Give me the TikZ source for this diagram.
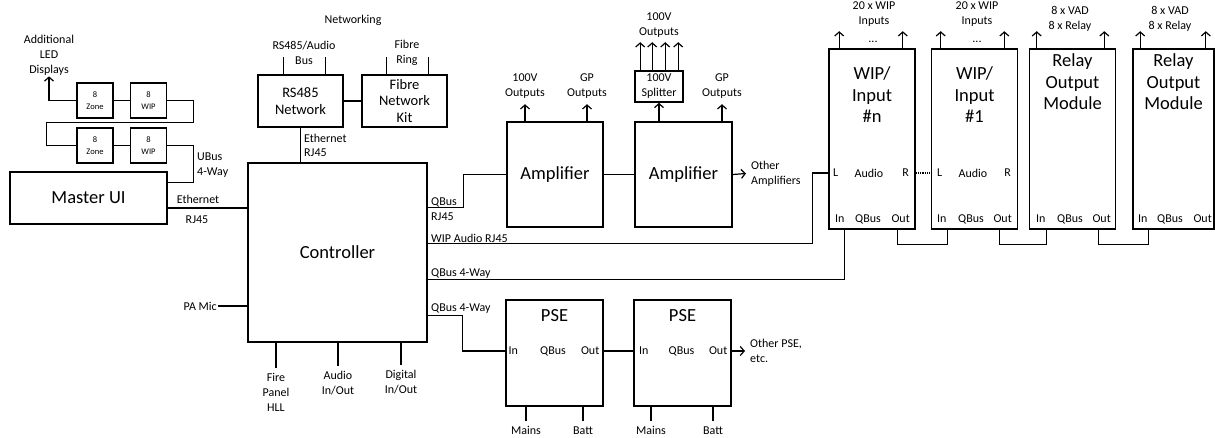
\documentclass[tikz,border=0pt]{standalone}
\usepackage{fontspec}
\setmainfont{Carlito}
\usepackage{tikz}
\usetikzlibrary{arrows.meta, positioning, calc}

\tikzset{
  unit/.style={draw, line width=1.6pt, inner sep=0pt, align=center, font=\fontsize{18.5}{21.5}\selectfont},
  netunit/.style={unit, font=\fontsize{14.5}{16.5}\selectfont},
  ledunit/.style={unit, minimum width=36pt, minimum height=35pt, font=\fontsize{8.5}{12}\selectfont},
  modbox/.style={unit, minimum width=86pt, minimum height=180pt},
  psebox/.style={unit, minimum width=97pt, minimum height=106pt},
  title/.style={font=\fontsize{18.5}{21.5}\selectfont, align=center, inner sep=0pt},
  lbl/.style={font=\fontsize{12}{15}\selectfont, align=center, inner sep=1pt},
  port/.style={font=\fontsize{12}{15}\selectfont, inner sep=0pt},
  wire/.style={line width=1.2pt},
}

\begin{document}
\begin{tikzpicture}[x=1pt, y=-1pt, >={Straight Barb[length=4pt, width=9pt]}]
    \useasboundingbox (0,0) rectangle (1215,437);

    % master UI and controller
    \node[unit, minimum width=157pt, minimum height=52pt] (master) at (88.5,198) {Master UI};
    \node[unit, minimum width=179pt, minimum height=179pt] (ctrl) at (337.5,252.5) {Controller};

    % LED displays
    \node[ledunit] (ledzoneA) at (95,100.5) {8\\Zone};
    \node[ledunit] (ledwipA) at (148.5,100.5) {8\\WIP};
    \node[ledunit] (ledzoneB) at (95,145.5) {8\\Zone};
    \node[ledunit] (ledwipB) at (148.5,145.5) {8\\WIP};
    \node[lbl] (addled) at (49,55) {Additional\\LED\\Displays};
    \node[lbl, anchor=west, align=left] (ubus) at (196,165.5) {UBus\\4-Way};

    \draw[wire, ->] (ledzoneA.west) -| (addled.south);
    \draw[wire] (ledzoneA) -- (ledwipA);
    \draw[wire] (ledwipA.east) -- ++(26,0) |- ($(ledzoneB.west)+(-30,-23)$) |- (ledzoneB.west);
    \draw[wire] (ledzoneB) -- (ledwipB);
    \draw[wire] (ledwipB.east) -- ++(26,0) |- ($(master.north east)+(0,11)$);

    \coordinate (ethA) at ($(master.east)+(0,10)$);
    \draw[wire] (ethA) -- (ethA -| ctrl.west);
    \node[lbl] (ethAlbl) at (198,199) {Ethernet};
    \node[lbl] (rjAlbl) at (197,220) {RJ45};

    % networking
    \node[netunit, minimum width=85pt, minimum height=52pt] (rs485) at (300.5,101) {RS485\\Network};
    \node[netunit, minimum width=85pt, minimum height=52pt] (fibre) at (404.5,101) {Fibre\\Network\\Kit};
    \node[lbl] (netlbl) at (353,20) {Networking};
    \node[lbl] (buslbl) at (304,53) {RS485/Audio\\Bus};
    \node[lbl] (ringlbl) at (407,53) {Fibre\\Ring};
    \draw[wire] ($(rs485.north west)+(26,0)$) -- ++(0,-17);
    \draw[wire] ($(rs485.north east)+(-18,0)$) -- ++(0,-17);
    \draw[wire] ($(fibre.north west)+(25,0)$) -- ++(0,-17);
    \draw[wire] ($(fibre.north east)+(-19,0)$) -- ++(0,-17);
    \draw[wire] (rs485) -- (fibre);
    \draw[wire] (rs485.south) -- (rs485.south |- ctrl.north);
    \node[lbl, anchor=west] (ethBlbl) at (303,138) {Ethernet};
    \node[lbl, anchor=west] (rjBlbl) at (303,153) {RJ45};

    % amplifiers
    \node[unit, minimum width=96pt, minimum height=105pt] (ampA) at (555,174.5) {Amplifier};
    \node[unit, minimum width=97pt, minimum height=105pt] (ampB) at (683.5,174.5) {Amplifier};
    \node[unit, font=\fontsize{12}{15}\selectfont, minimum width=48pt, minimum height=31pt] (split) at (659,86.5) {100V\\Splitter};
    \node[lbl] (ampAout) at (525,86.5) {100V\\Outputs};
    \node[lbl] (ampAgp) at (587,86.5) {GP\\Outputs};
    \node[lbl] (ampBgp) at (722,86.5) {GP\\Outputs};
    \node[lbl] (splitout) at (659,25) {100V\\Outputs};
    \node[lbl, anchor=west, align=left, inner xsep=5pt] (otheramp) at (746,173.5) {Other\\Amplifiers};

    \draw[wire, ->] (ampA.north -| ampAout) -- ++(0,-17);
    \draw[wire, ->] (ampA.north -| ampAgp) -- ++(0,-17);
    \draw[wire, ->] (ampB.north -| split) -- (split.south);
    \draw[wire, ->] (ampB.north -| ampBgp) -- ++(0,-17);
    \draw[wire, ->] ($(split.north west)+(6,0)$) -- ++(0,-28);
    \draw[wire, ->] ($(split.north west)+(18,0)$) -- ++(0,-28);
    \draw[wire, ->] ($(split.north west)+(31,0)$) -- ++(0,-28);
    \draw[wire, ->] ($(split.north west)+(44,0)$) -- ++(0,-28);
    \draw[wire] (ampA) -- (ampB);
    \draw[wire, ->] (ampB.east) -- (otheramp.west);

    % WIP and relay modules
    \node[modbox] (wipn) at (872,139) {};
    \node[modbox] (wip1) at (974.5,139) {};
    \node[modbox] (relA) at (1072.5,139) {};
    \node[modbox, minimum width=81pt] (relB) at (1173.5,139) {};
    \node[title] (wipnT) at (872,95) {WIP/\\Input\\\#n};
    \node[title] (wip1T) at (974.5,95) {WIP/\\Input\\\#1};
    \node[title] (relAT) at (1072.5,82) {Relay\\Output\\Module};
    \node[title] (relBT) at (1173.5,82) {Relay\\Output\\Module};

    \node[lbl] (wipnTop) at (874,14.5) {20 x WIP\\Inputs};
    \node[lbl] (wip1Top) at (977,14.5) {20 x WIP\\Inputs};
    \node[lbl] (relATop) at (1070,18.5) {8 x VAD\\8 x Relay};
    \node[lbl] (relBTop) at (1170,18.5) {8 x VAD\\8 x Relay};
    \node[lbl] (wipnDots) at (873,42) {...};
    \node[lbl] (wip1Dots) at (977,42) {...};

    \draw[wire, ->] ($(wipn.north west)+(11,0)$) -- ++(0,-17);
    \draw[wire, ->] ($(wipn.north east)+(-13,0)$) -- ++(0,-17);
    \draw[wire, ->] ($(wip1.north west)+(10,0)$) -- ++(0,-17);
    \draw[wire, ->] ($(wip1.north east)+(-14,0)$) -- ++(0,-17);
    \draw[wire, ->] ($(relA.north west)+(8,0)$) -- ++(0,-17);
    \draw[wire, ->] ($(relA.north east)+(-12,0)$) -- ++(0,-17);
    \draw[wire, ->] ($(relB.north west)+(8,0)$) -- ++(0,-17);
    \draw[wire, ->] ($(relB.north east)+(-9,0)$) -- ++(0,-17);

    \node[port, anchor=west] (wipnL) at (833,173) {L};
    \node[port] (wipnA) at (869,173) {Audio};
    \node[port, anchor=east] (wipnR) at (909,173) {R};
    \node[port, anchor=west] (wipnIn) at (835,219) {In};
    \node[port] (wipnQ) at (868,219) {QBus};
    \node[port, anchor=east] (wipnOut) at (910,219) {Out};

    \node[port, anchor=west] (wip1L) at (937,173) {L};
    \node[port] (wip1A) at (973,173) {Audio};
    \node[port, anchor=east] (wip1R) at (1011,173) {R};
    \node[port, anchor=west] (wip1In) at (937,219) {In};
    \node[port] (wip1Q) at (971,219) {QBus};
    \node[port, anchor=east] (wip1Out) at (1012,219) {Out};

    \node[port, anchor=west] (relAIn) at (1036,219) {In};
    \node[port] (relAQ) at (1070,219) {QBus};
    \node[port, anchor=east] (relAOut) at (1111,219) {Out};

    \node[port, anchor=west] (relBIn) at (1138,219) {In};
    \node[port] (relBQ) at (1170,219) {QBus};
    \node[port, anchor=east] (relBOut) at (1212,219) {Out};

    \draw[wire, densely dotted] (wipn.east |- wipnR) -- (wip1.west |- wip1L);
    \draw[wire] ($(wipnOut.west |- wipn.south)+(6,0)$) -- ++(0,15) -| ($(wip1In.east |- wip1.south)+(1,0)$);
    \draw[wire] ($(wip1Out.west |- wip1.south)+(6,0)$) -- ++(0,15) -| ($(relAIn.east |- relA.south)+(1,0)$);
    \draw[wire] ($(relAOut.west |- relA.south)+(6,0)$) -- ++(0,15) -| ($(relBIn.east |- relB.south)+(1,0)$);

    % controller outputs
    \coordinate (qbusA) at ($(ctrl.north east)+(0,45)$);
    \draw[wire] (qbusA) -- ++(36,0) |- (ampA.west);
    \node[lbl, anchor=west] (qbusAlbl) at (430,202) {QBus};
    \node[lbl, anchor=west] (qbusArj) at (430,217) {RJ45};

    \coordinate (wipaud) at ($(ctrl.north east)+(0,81)$);
    \draw[wire] (wipaud) -- ++(385,0) |- (wipn.west |- wipnL);
    \node[lbl, anchor=west] (wipaudlbl) at (430,238) {WIP Audio RJ45};

    \coordinate (qbusB) at ($(ctrl.north east)+(0,117)$);
    \draw[wire] (qbusB) -| (wipnIn.east |- wipn.south);
    \node[lbl, anchor=west] (qbusBlbl) at (430,274) {QBus 4-Way};

    % PSE
    \node[psebox] (pseA) at (554.5,353) {};
    \node[psebox] (pseB) at (682.5,353) {};
    \node[title] (pseAT) at (554.5,316) {PSE};
    \node[title] (pseBT) at (682.5,316) {PSE};
    \node[port, anchor=west] (pseAIn) at (508.5,351) {In};
    \node[port] (pseAQ) at (553,351) {QBus};
    \node[port, anchor=east] (pseAOut) at (599.5,351) {Out};
    \node[port, anchor=west] (pseBIn) at (639,351) {In};
    \node[port] (pseBQ) at (681.5,351) {QBus};
    \node[port, anchor=east] (pseBOut) at (727.5,351) {Out};
    \node[lbl, anchor=west, align=left, inner xsep=5pt] (otherpse) at (745,351) {Other PSE,\\etc.};
    \node[lbl] (mainsA) at (526,430.5) {Mains};
    \node[lbl] (battA) at (583,430.5) {Batt};
    \node[lbl] (mainsB) at (651,430.5) {Mains};
    \node[lbl] (battB) at (713,430.5) {Batt};

    \coordinate (qbusC) at ($(ctrl.north east)+(0,153)$);
    \draw[wire] (qbusC) -- ++(35,0) |- (pseA.west |- pseAIn);
    \node[lbl, anchor=west] (qbusClbl) at (430,309) {QBus 4-Way};
    \draw[wire] (pseA.east |- pseAOut) -- (pseB.west |- pseBIn);
    \draw[wire, ->] (pseB.east |- pseBOut) -- (otherpse.west);
    \draw[wire, shorten >=4pt] (pseA.south -| mainsA) -- (mainsA.north);
    \draw[wire, shorten >=4pt] (pseA.south -| battA) -- (battA.north);
    \draw[wire, shorten >=4pt] (pseB.south -| mainsB) -- (mainsB.north);
    \draw[wire, shorten >=4pt] (pseB.south -| battB) -- (battB.north);

    % controller inputs
    \node[lbl, anchor=east] (pamic) at (218,306) {PA Mic};
    \draw[wire] (pamic.east) -- (pamic.east -| ctrl.west);
    \node[lbl] (fire) at (276,392) {Fire\\Panel\\HLL};
    \node[lbl] (audio) at (338,383.5) {Audio\\In/Out};
    \node[lbl] (digital) at (401,382.5) {Digital\\In/Out};
    \draw[wire, shorten >=4pt] (ctrl.south -| fire) -- (fire.north);
    \draw[wire, shorten >=4pt] (ctrl.south -| audio) -- (audio.north);
    \draw[wire, shorten >=4pt] (ctrl.south -| digital) -- (digital.north);
\end{tikzpicture}
\end{document}
